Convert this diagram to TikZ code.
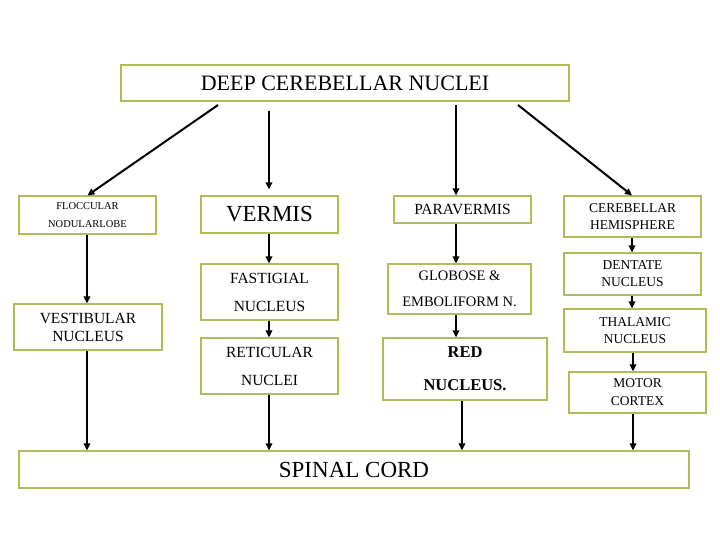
\documentclass[tikz,border=0pt]{standalone}
\usepackage{fontspec}
\setmainfont{Liberation Serif}
\usepackage{tikz}
\usetikzlibrary{arrows.meta}
\definecolor{boxgreen}{RGB}{176,188,88}

\begin{document}
\begin{tikzpicture}[x=1pt,y=-1pt,>={Triangle[length=7pt,width=6.5pt]}]
  \tikzset{
    box/.style={draw=boxgreen,line width=1.2pt,inner sep=0pt,align=center},
    arr/.style={->,draw=black,line width=2pt},
  }
  \useasboundingbox[fill=white] (0,0) rectangle (720,540);

  % columns of the vertical arrows
  \coordinate (c1) at (87,0);
  \coordinate (c2) at (269,0);
  \coordinate (c3) at (456,0);
  \coordinate (c3b) at (462,0);
  \coordinate (c4) at (632,0);
  \coordinate (c4b) at (633,0);
  % free ends under the top box
  \coordinate (s1) at (218,105);
  \coordinate (s2) at (269,111);
  \coordinate (s3) at (456,105);
  \coordinate (s4) at (518,105);

  \node[box,minimum width=448,minimum height=36,font=\fontsize{22}{24}\selectfont] (deep) at (345,83) {DEEP CEREBELLAR NUCLEI};

  \node[box,minimum width=137,minimum height=38,font=\fontsize{10.5}{18}\selectfont] (floc) at (87.5,215) {FLOCCULAR\\NODULARLOBE};
  \node[box,minimum width=148,minimum height=46,font=\fontsize{15.5}{18}\selectfont] (vest) at (88,327) {VESTIBULAR\\NUCLEUS};

  \node[box,minimum width=137,minimum height=37,font=\fontsize{23}{25}\selectfont] (vermis) at (269.5,214.5) {VERMIS};
  \node[box,minimum width=137,minimum height=56,font=\fontsize{15.5}{28}\selectfont] (fast) at (269.5,292) {FASTIGIAL\\NUCLEUS};
  \node[box,minimum width=137,minimum height=56,font=\fontsize{15.5}{28}\selectfont] (retic) at (269.5,366) {RETICULAR\\NUCLEI};

  \node[box,minimum width=137,minimum height=27,font=\fontsize{15.5}{17}\selectfont] (parav) at (462.5,209.5) {PARAVERMIS};
  \node[box,minimum width=143,minimum height=50,font=\fontsize{14.5}{26}\selectfont] (glob) at (459.5,289) {GLOBOSE \&\\EMBOLIFORM N.};
  \node[box,minimum width=164,minimum height=62,font=\fontsize{16.5}{33}\selectfont\bfseries] (red) at (465,369) {RED\\NUCLEUS.};

  \node[box,minimum width=137,minimum height=41,font=\fontsize{13.5}{17}\selectfont] (cereb) at (632.5,216.5) {CEREBELLAR\\HEMISPHERE};
  \node[box,minimum width=137,minimum height=42,font=\fontsize{13.5}{17}\selectfont] (dent) at (632.5,274) {DENTATE\\NUCLEUS};
  \node[box,minimum width=142,minimum height=43,font=\fontsize{13.5}{17}\selectfont] (thal) at (635,330.5) {THALAMIC\\NUCLEUS};
  \node[box,minimum width=137,minimum height=41,font=\fontsize{13.5}{18}\selectfont] (motor) at (637.5,392.5) {MOTOR\\CORTEX};

  \node[box,minimum width=670,minimum height=37,font=\fontsize{23}{25}\selectfont] (spinal) at (354,469.5) {SPINAL CORD};

  % from the top box
  \draw[arr] (s1) -- (floc.north);
  \draw[arr,shorten >=6pt] (s2) -- (vermis.north -| c2);
  \draw[arr] (s3) -- (parav.north -| c3);
  \draw[arr] (s4) -- (cereb.north -| c4);

  % down the columns
  \draw[arr] (floc.south -| c1) -- (vest.north -| c1);
  \draw[arr] (vermis.south -| c2) -- (fast.north -| c2);
  \draw[arr] (fast.south -| c2) -- (retic.north -| c2);
  \draw[arr] (parav.south -| c3) -- (glob.north -| c3);
  \draw[arr] (glob.south -| c3) -- (red.north -| c3);
  \draw[arr] (cereb.south -| c4) -- (dent.north -| c4);
  \draw[arr] (dent.south -| c4) -- (thal.north -| c4);
  \draw[arr] (thal.south -| c4b) -- (motor.north -| c4b);

  % into the spinal cord
  \draw[arr] (vest.south -| c1) -- (spinal.north -| c1);
  \draw[arr] (retic.south -| c2) -- (spinal.north -| c2);
  \draw[arr] (red.south -| c3b) -- (spinal.north -| c3b);
  \draw[arr] (motor.south -| c4b) -- (spinal.north -| c4b);
\end{tikzpicture}
\end{document}
